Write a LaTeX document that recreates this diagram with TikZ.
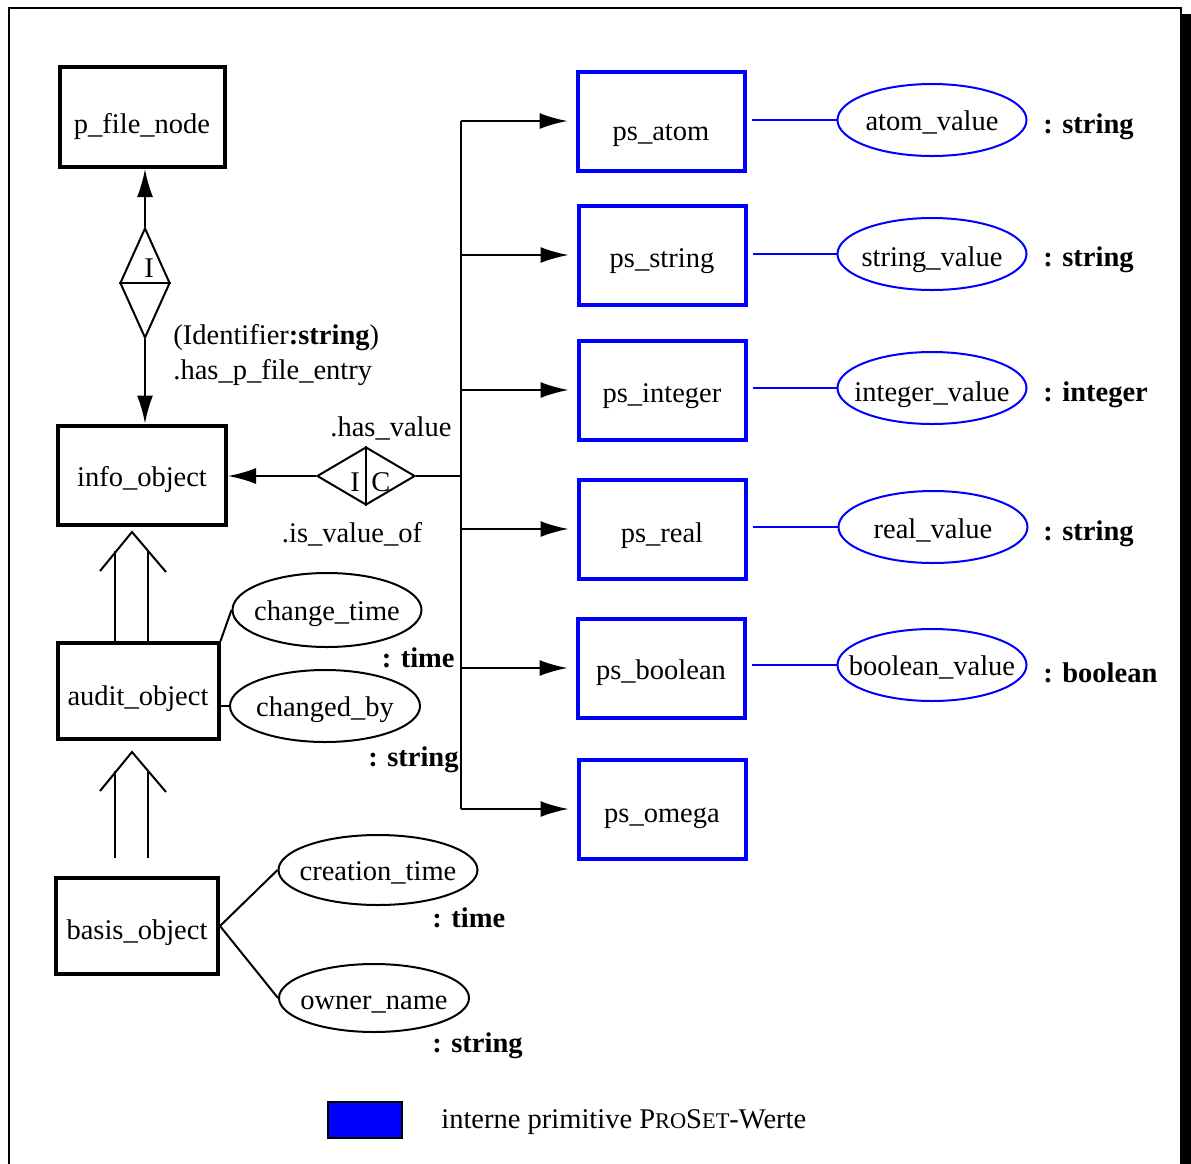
\documentclass[tikz,border=0pt]{standalone}
\usepackage{fontspec}
\setmainfont{Liberation Serif}
\usetikzlibrary{shapes.geometric,arrows.meta,calc}
\newcommand{\smcaps}[1]{{\fontsize{11.2}{13}\selectfont #1}}
\newcommand{\ctext}[1]{\makebox[0pt]{#1}}
\begin{document}
\begin{tikzpicture}[x=0.5pt,y=-0.5pt,
  font=\fontsize{14.25}{17}\selectfont,
  entity/.style={draw, line width=2pt, inner sep=0pt, text depth=3.1pt},
  prim/.style={entity, draw=blue, minimum width=83.5pt, minimum height=49.5pt},
  attr/.style={draw, ellipse, line width=1pt, inner sep=0pt, text depth=3.1pt},
  pattr/.style={attr, draw=blue, minimum width=94.5pt, minimum height=36pt},
  rel/.style={draw, diamond, line width=1pt, inner sep=0pt},
  lbl/.style={inner sep=0pt},
  typ/.style={inner sep=0pt, anchor=west, font=\fontsize{14.25}{17}\selectfont\bfseries},
  arr/.style={line width=1pt, -{Latex[length=14pt,width=8pt]}},
  link/.style={line width=1pt},
  plink/.style={line width=1pt, draw=blue, shorten <=2.5pt},
]
\useasboundingbox (0,0) rectangle (1191,1164);

% page frame with its shadow
\fill (1182,14) rectangle (1191,1170);
\draw[line width=1.2pt] (9,1170) -- (9,8) -- (1181,8) -- (1181,1170);

% entities of the object model
\node[entity, minimum width=82.5pt, minimum height=50pt, text height=20pt] (pfile) at (142,117) {p\_file\_node};
\node[entity, minimum width=84pt, minimum height=49.5pt, text height=15pt] (info) at (142,475) {info\_object};
\node[entity, minimum width=80.5pt, minimum height=48pt, text height=18pt] (audit) at (138,691) {audit\_object};
\node[entity, minimum width=81pt, minimum height=48pt, text height=17pt] (basis) at (137,926) {basis\_object};

% primitive value entities
\node[prim, text height=23pt] (atom) at (661,121) {ps\_atom};
\node[prim, text height=16pt] (string) at (662,255) {ps\_string};
\node[prim, text height=16pt] (integer) at (662,390) {ps\_integer};
\node[prim, text height=17pt] (real) at (662,529) {ps\_real};
\node[prim, text height=15pt] (boolean) at (661,668) {ps\_boolean};
\node[prim, text height=17pt] (omega) at (662,809) {ps\_omega};

% value attributes
\node[pattr, text height=14pt] (atomv) at (932,120) {\ctext{atom\_value}};
\node[pattr, text height=16pt] (stringv) at (932,254) {\ctext{string\_value}};
\node[pattr, text height=17pt] (integerv) at (932,388) {\ctext{integer\_value}};
\node[pattr, text height=15pt] (realv) at (933,527) {\ctext{real\_value}};
\node[pattr, text height=14pt] (booleanv) at (932,665) {\ctext{boolean\_value}};

\node[typ] at (1043,127) {: string};
\node[typ] at (1043,260) {: string};
\node[typ] at (1043,395) {: integer};
\node[typ] at (1043,534) {: string};
\node[typ] at (1043,673) {: boolean};

\foreach \p in {atom,string,integer,real,boolean}
  \draw[plink] (\p v.west -| \p.east) -- (\p v.west);

% audit and basis attributes
\node[attr, minimum width=94.5pt, minimum height=37pt, text height=14pt] (chtime) at (327,610) {\ctext{change\_time}};
\node[attr, minimum width=95pt, minimum height=36pt, text height=14pt] (chby) at (325,706) {\ctext{changed\_by}};
\node[attr, minimum width=99.5pt, minimum height=35pt, text height=14pt] (crtime) at (378,870) {\ctext{creation\_time}};
\node[attr, minimum width=95pt, minimum height=34pt, text height=15pt] (owner) at (374,998) {\ctext{owner\_name}};

\node[typ, anchor=east] at (455,658) {: time};
\node[typ, anchor=east] at (459,760) {: string};
\node[typ] at (432,918) {: time};
\node[typ] at (432,1046) {: string};

\draw[link] (audit.north east) -- (chtime.west);
\draw[link] (chby.west -| audit.east) -- (chby.west);
\draw[link] (basis.east) -- (crtime.west);
\draw[link] (basis.east) -- (owner.west);

% relationship p_file_entry
\node[rel, minimum width=25pt, minimum height=55pt] (dPF) at (145,283) {};
\draw[link] (dPF.west) -- (dPF.east);
\node[lbl] at (149,268) {I};
\draw[arr] (dPF.north) -- (dPF.north |- pfile.south);
\draw[arr] (dPF.south) -- (dPF.south |- info.north);
\node[lbl, anchor=west] at (173,338) {(Identifier\textbf{:string})};
\node[lbl, anchor=west] at (173,373) {.has\_p\_file\_entry};

% relationship has_value
\node[rel, minimum width=49pt, minimum height=29pt] (dIC) at (366,476) {};
\draw[link] (dIC.north) -- (dIC.south);
\node[lbl] at (355,482) {I};
\node[lbl] at (381,482) {C};
\node[lbl] at (391,428) {.has\_value};
\node[lbl] at (352,534) {.is\_value\_of};
\draw[arr] (dIC.west) -- (dIC.west -| info.east);

\coordinate (bus) at (461,476);
\draw[link] (dIC.east) -- (dIC.east -| bus);
\draw[link] (atom.west -| bus) -- (omega.west -| bus);
\foreach \p in {atom,string,integer,real,boolean,omega}
  \draw[arr, shorten >=4pt] (\p.west -| bus) -- (\p.west);

% generalisation arrows
\draw[link] (100,571) -- (132,532) -- (166,572);
\draw[link] (115,551) -- (115,551 |- audit.north);
\draw[link] (148,551) -- (148,551 |- audit.north);
\draw[link] (100,791) -- (132,752) -- (166,792);
\draw[link] (115,771) -- (115,858);
\draw[link] (148,771) -- (148,858);

% legend
\node[draw, fill=blue, line width=1pt, minimum width=37pt, minimum height=18pt, inner sep=0pt] (legend) at (365,1120) {};
\node[lbl, anchor=west] at (441,1122) {interne primitive P\smcaps{RO}S\smcaps{ET}-Werte};
\end{tikzpicture}
\end{document}
